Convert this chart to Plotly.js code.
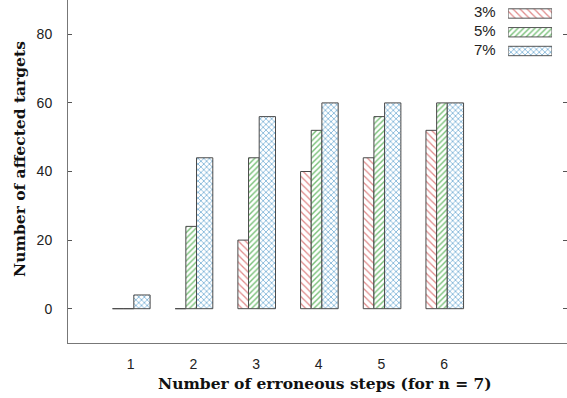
<!DOCTYPE html>
<html>
<head>
<meta charset="utf-8">
<script src="https://cdn.plot.ly/plotly-3.0.1.min.js"></script>
<style>html,body{margin:0;padding:0;background:#fff;}#chart{width:567px;height:398px;}</style>
</head>
<body>
<div id="chart"></div>
<script>
// Data
const steps = [1, 2, 3, 4, 5, 6];
const seriesNames = ["3%", "5%", "7%"];
const pct3 = [0, 0, 20, 40, 44, 52];
const pct5 = [0, 24, 44, 52, 56, 60];
const pct7 = [4, 44, 56, 60, 60, 60];
const yTicks = [0, 20, 40, 60, 80];

const outline = {color: '#4a4a4a', width: 1};
const styles = [
  {fg: '#e08a8a', shape: '\\', size: 5, sol: 0.25, offset: -0.29, width: 0.17},
  {fg: '#78c078', shape: '/', size: 4, sol: 0.35, offset: -0.12, width: 0.17},
  {fg: '#86b9da', shape: 'x', size: 4, sol: 0.4, offset: 0.05, width: 0.26}
];
const values = [pct3, pct5, pct7];

const traces = [];
values.forEach((v, i) => {
  const s = styles[i];
  traces.push({
    type: 'bar', x: steps, y: v, name: seriesNames[i],
    offset: s.offset, width: s.width,
    marker: {color: '#ffffff', line: outline,
      pattern: {shape: s.shape, fgcolor: s.fg, bgcolor: '#ffffff', size: s.size, solidity: s.sol, fillmode: 'replace'}},
    showlegend: false, hoverinfo: 'skip'
  });
});
// legend swatches (custom legend, text to the left of the swatch)
values.forEach((v, i) => {
  const s = styles[i];
  traces.push({
    type: 'bar', orientation: 'h', x: [1], y: [i], base: 0, width: 0.5,
    xaxis: 'x2', yaxis: 'y2',
    marker: {color: '#ffffff', line: {color: '#555', width: 1},
      pattern: {shape: s.shape, fgcolor: s.fg, bgcolor: '#ffffff', size: s.size, solidity: s.sol, fillmode: 'replace'}},
    showlegend: false, hoverinfo: 'skip'
  });
});

const tickFont = {family: 'Liberation Sans, Arial, sans-serif', size: 14, color: '#222'};
const titleFont = {family: 'DejaVu Serif, serif', size: 15.5, color: '#111', weight: 'bold'};

const annotations = seriesNames.map((n, i) => ({
  text: n, xref: 'paper', yref: 'y2', x: 0.862, y: i - 0.08, xanchor: 'right', yanchor: 'middle',
  showarrow: false, font: {family: 'Liberation Sans, Arial, sans-serif', size: 15, color: '#222'}
}));
annotations.push({
  text: 'Number of affected targets', xref: 'paper', yref: 'paper', x: -0.096, y: 0.537,
  xanchor: 'center', yanchor: 'middle', textangle: -90, showarrow: false, font: titleFont
});
annotations.push({
  text: 'Number of erroneous steps (for n = 7)', xref: 'paper', yref: 'paper', x: 0.515, y: -0.117,
  xanchor: 'center', yanchor: 'middle', showarrow: false, font: titleFont
});

const layout = {
  width: 567, height: 398,
  margin: {l: 68, r: 0, t: 0, b: 55},
  paper_bgcolor: '#fff', plot_bgcolor: '#fff',
  barmode: 'overlay',
  showlegend: false,
  xaxis: {range: [0, 7.96], tickvals: steps, ticktext: steps.map(String), ticks: '', showgrid: false,
    zeroline: false, showline: true, mirror: true, linecolor: '#777', linewidth: 1,
    tickfont: tickFont, ticklen: 0, ticklabelstandoff: 8},
  yaxis: {range: [-10, 90], tickvals: yTicks, ticks: 'inside', ticklen: 4, tickcolor: '#555',
    showgrid: false, zeroline: false, showline: true, mirror: 'ticks', linecolor: '#777', linewidth: 1,
    tickfont: tickFont, ticklabelstandoff: 12},
  xaxis2: {domain: [0.882, 0.970], range: [0, 1], visible: false, fixedrange: true, anchor: 'y2'},
  yaxis2: {domain: [0.824, 0.988], range: [2.5, -0.5], visible: false, fixedrange: true, anchor: 'x2'},
  annotations: annotations
};

Plotly.newPlot('chart', traces, layout, {staticPlot: true, displayModeBar: false});
</script>
</body>
</html>
